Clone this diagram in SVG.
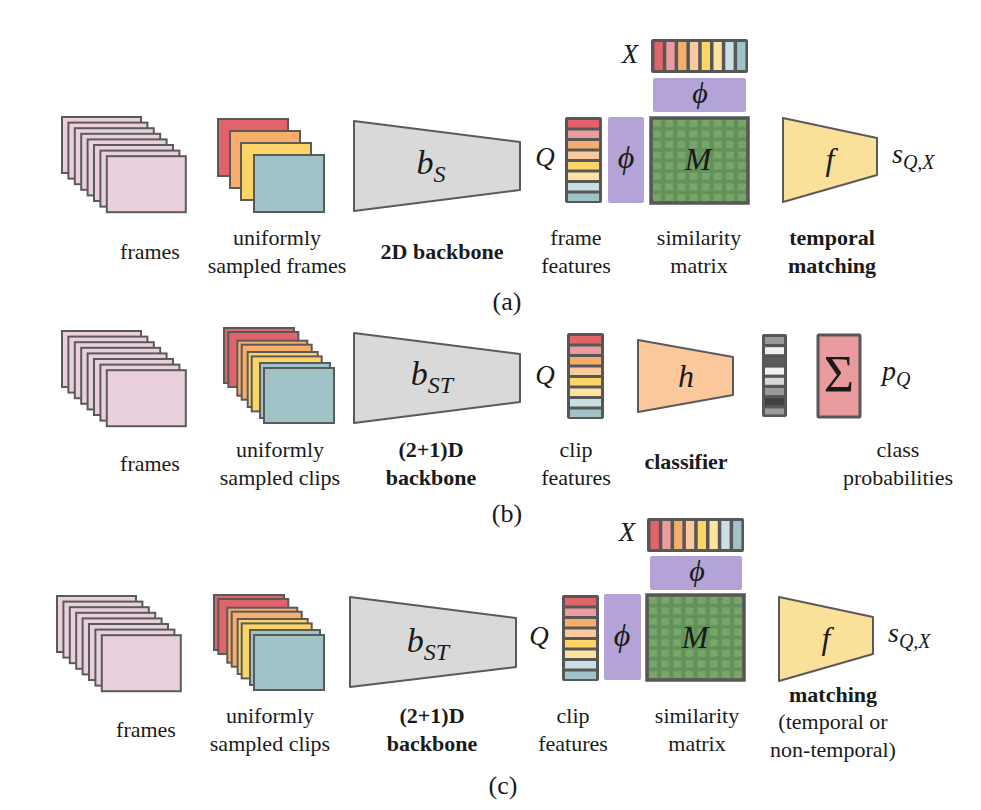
<svg xmlns="http://www.w3.org/2000/svg" xmlns:xlink="http://www.w3.org/1999/xlink" width="981" height="810" viewBox="0 0 981 810">
<style>
text{font-family:'Liberation Serif','DejaVu Serif','Times New Roman',serif}
.lbl{font-size:22px;fill:#1a1a1a;text-anchor:middle}
.b{font-weight:bold}
.mi{font-style:italic;fill:#1a1a1a}
.cap{font-size:26px;fill:#1a1a1a;text-anchor:middle}
.fr{fill:#e9d0dc;stroke:#5a5a5a;stroke-width:2}
.sr{stroke:#5a5a5a;stroke-width:2}
.red{fill:#e0646a}.pnk{fill:#ec9b9e}.org{fill:#f7ad6b}.pch{fill:#fbc99d}.yel{fill:#fdd466}.lyl{fill:#fde39f}.lbl2{fill:#c9dfe2}.tea{fill:#9fc3c7}
.trap{stroke:#5a5a5a;stroke-width:2;stroke-linejoin:round}
.phi{fill:#b3a3d6}
.dark{fill:#575757}
</style>
<defs>
<g id="frames8">
<rect class="fr" x="0" y="0" width="79" height="56"/>
<rect class="fr" x="6.4" y="5.6" width="79" height="56"/>
<rect class="fr" x="12.8" y="11.2" width="79" height="56"/>
<rect class="fr" x="19.2" y="16.8" width="79" height="56"/>
<rect class="fr" x="25.6" y="22.4" width="79" height="56"/>
<rect class="fr" x="32" y="28" width="79" height="56"/>
<rect class="fr" x="38.4" y="33.6" width="79" height="56"/>
<rect class="fr" x="44.8" y="39.2" width="79" height="56"/>
</g>
<g id="clips8">
<rect class="red sr" x="0" y="0" width="70" height="55"/>
<rect class="red sr" x="4.3" y="4" width="70" height="55"/>
<rect class="org sr" x="13.3" y="12.7" width="70" height="55"/>
<rect class="org sr" x="17.7" y="16.7" width="70" height="55"/>
<rect class="yel sr" x="23.7" y="24" width="70" height="55"/>
<rect class="yel sr" x="27.7" y="28.4" width="70" height="55"/>
<rect class="tea sr" x="36" y="35" width="70" height="55"/>
<rect class="tea sr" x="40" y="40" width="70" height="55"/>
</g>
<g id="qcol">
<rect class="dark" x="0" y="0" width="37" height="86" rx="2"/>
<rect class="red" x="3" y="3" width="31" height="7.5"/>
<rect class="pnk" x="3" y="13.5" width="31" height="7.5"/>
<rect class="org" x="3" y="24" width="31" height="7.5"/>
<rect class="pch" x="3" y="34.5" width="31" height="7.5"/>
<rect class="yel" x="3" y="45" width="31" height="7.5"/>
<rect class="lyl" x="3" y="55.5" width="31" height="7.5"/>
<rect class="lbl2" x="3" y="66" width="31" height="7.5"/>
<rect class="tea" x="3" y="76.5" width="31" height="7.5"/>
</g>
<g id="xrow">
<rect class="dark" x="0" y="0" width="97" height="34" rx="2"/>
<rect class="red" x="3.5" y="3" width="8.3" height="28"/>
<rect class="pnk" x="15.3" y="3" width="8.3" height="28"/>
<rect class="org" x="27.1" y="3" width="8.3" height="28"/>
<rect class="pch" x="38.9" y="3" width="8.3" height="28"/>
<rect class="yel" x="50.7" y="3" width="8.3" height="28"/>
<rect class="lyl" x="62.5" y="3" width="8.3" height="28"/>
<rect class="lbl2" x="74.3" y="3" width="8.3" height="28"/>
<rect class="tea" x="86.1" y="3" width="8.3" height="28"/>
</g>
<pattern id="mg" x="0" y="0" width="12.125" height="10.6" patternUnits="userSpaceOnUse">
<rect x="2.2" y="1.8" width="7.8" height="7" fill="#78a56a"/>
</pattern>
<g id="mmat">
<rect x="0" y="0" width="97" height="85" fill="#62915a"/>
<rect x="0" y="0" width="97" height="85" fill="url(#mg)"/>
<rect x="0" y="0" width="97" height="85" fill="none" stroke="#575757" stroke-width="3.5"/>
</g>
</defs>

<g id="connectors"/>

<!-- Panel (a) -->
<g id="a-frames" transform="translate(62,117)"><use xlink:href="#frames8"/></g>
<g id="a-sampled">
<rect class="red sr" x="218" y="119" width="70" height="57"/>
<rect class="org sr" x="230" y="131" width="70" height="57"/>
<rect class="yel sr" x="241" y="143" width="70" height="57"/>
<rect class="tea sr" x="254" y="155" width="70" height="57"/>
</g>
<g id="a-backbone">
<polygon class="trap" fill="#d9d9d9" points="354,121 520,142 520,190 354,211"/>
<text class="mi" x="431" y="174" text-anchor="middle" font-size="34">b<tspan font-size="24" dy="8">S</tspan></text>
</g>
<g id="a-qfeat">
<use xlink:href="#qcol" transform="translate(565,117)"/>
<text class="mi" x="545" y="166" text-anchor="middle" font-size="27">Q</text>
</g>
<g id="a-phiq">
<rect class="phi" x="608" y="117" width="36" height="86" rx="2"/>
<text class="mi" x="626" y="168" text-anchor="middle" font-size="32">ϕ</text>
</g>
<g id="a-xfeat">
<use xlink:href="#xrow" transform="translate(651,39)"/>
<text class="mi" x="630" y="63" text-anchor="middle" font-size="27">X</text>
</g>
<g id="a-phix">
<rect class="phi" x="653" y="78" width="93" height="34" rx="2"/>
<text class="mi" x="700" y="103" text-anchor="middle" font-size="30">ϕ</text>
</g>
<g id="a-M">
<use xlink:href="#mmat" transform="translate(651,118)"/>
<text class="mi" x="698" y="170" text-anchor="middle" font-size="32">M</text>
</g>
<g id="a-f">
<polygon class="trap" fill="#fbe09a" points="783,118 877,138 877,175 783,202"/>
<text class="mi" x="830" y="170" text-anchor="middle" font-size="32">f</text>
</g>
<g id="a-s">
<text class="mi" x="892" y="163" font-size="28">s<tspan font-size="20" dy="6">Q,X</tspan></text>
</g>
<g id="a-labels">
<text class="lbl" x="150" y="259">frames</text>
<text class="lbl" x="277" y="245">uniformly</text>
<text class="lbl" x="277" y="273">sampled frames</text>
<text class="lbl b" x="442" y="259">2D backbone</text>
<text class="lbl" x="576" y="245">frame</text>
<text class="lbl" x="576" y="273">features</text>
<text class="lbl" x="699" y="245">similarity</text>
<text class="lbl" x="699" y="273">matrix</text>
<text class="lbl b" x="832" y="245">temporal</text>
<text class="lbl b" x="832" y="273">matching</text>
<text class="cap" x="507" y="310">(a)</text>
</g>

<!-- Panel (b) -->
<g id="b-frames" transform="translate(62,331)"><use xlink:href="#frames8"/></g>
<g id="b-clips" transform="translate(224,328)"><use xlink:href="#clips8"/></g>
<g id="b-backbone">
<polygon class="trap" fill="#d9d9d9" points="354,333 520,354 520,402 354,423"/>
<text class="mi" x="432" y="385" text-anchor="middle" font-size="34">b<tspan font-size="24" dy="8">ST</tspan></text>
</g>
<g id="b-qfeat">
<use xlink:href="#qcol" transform="translate(567,333)"/>
<text class="mi" x="545" y="384" text-anchor="middle" font-size="27">Q</text>
</g>
<g id="b-h">
<polygon class="trap" fill="#fbc89c" points="638,340 733,357 733,395 638,412"/>
<text class="mi" x="686" y="387" text-anchor="middle" font-size="32">h</text>
</g>
<g id="b-scores">
<rect class="dark" x="762" y="334" width="25" height="83" rx="2"/>
<rect fill="#9a9a9a" x="765" y="337" width="19" height="7"/>
<rect fill="#f2f2f2" x="765" y="347.2" width="19" height="7"/>
<rect fill="#5c5c5c" x="765" y="357.4" width="19" height="7"/>
<rect fill="#f2f2f2" x="765" y="367.6" width="19" height="7"/>
<rect fill="#d6d6d6" x="765" y="377.8" width="19" height="7"/>
<rect fill="#9a9a9a" x="765" y="388" width="19" height="7"/>
<rect fill="#404040" x="765" y="398.2" width="19" height="7"/>
<rect fill="#9a9a9a" x="765" y="408.4" width="19" height="6"/>
</g>
<g id="b-sum">
<rect x="818" y="335" width="42" height="82" fill="#e99a9c" stroke="#575757" stroke-width="3" rx="1"/>
<text x="839" y="392" text-anchor="middle" font-size="52" fill="#1a1a1a">Σ</text>
</g>
<g id="b-p">
<text class="mi" x="882" y="380" font-size="28">p<tspan font-size="20" dy="6">Q</tspan></text>
</g>
<g id="b-labels">
<text class="lbl" x="150" y="471">frames</text>
<text class="lbl" x="280" y="457">uniformly</text>
<text class="lbl" x="280" y="485">sampled clips</text>
<text class="lbl b" x="431" y="457">(2+1)D</text>
<text class="lbl b" x="431" y="485">backbone</text>
<text class="lbl" x="576" y="457">clip</text>
<text class="lbl" x="576" y="485">features</text>
<text class="lbl b" x="686" y="469">classifier</text>
<text class="lbl" x="898" y="457">class</text>
<text class="lbl" x="898" y="485">probabilities</text>
<text class="cap" x="507" y="522">(b)</text>
</g>

<!-- Panel (c) -->
<g id="c-frames" transform="translate(57,596)"><use xlink:href="#frames8"/></g>
<g id="c-clips" transform="translate(214,595)"><use xlink:href="#clips8"/></g>
<g id="c-backbone">
<polygon class="trap" fill="#d9d9d9" points="350,597 516,618 516,667 350,687"/>
<text class="mi" x="428" y="652" text-anchor="middle" font-size="34">b<tspan font-size="24" dy="8">ST</tspan></text>
</g>
<g id="c-qfeat">
<use xlink:href="#qcol" transform="translate(562,595)"/>
<text class="mi" x="539" y="645" text-anchor="middle" font-size="27">Q</text>
</g>
<g id="c-phiq">
<rect class="phi" x="604" y="594" width="37" height="86" rx="2"/>
<text class="mi" x="622" y="646" text-anchor="middle" font-size="32">ϕ</text>
</g>
<g id="c-xfeat">
<use xlink:href="#xrow" transform="translate(647,518)"/>
<text class="mi" x="627" y="541" text-anchor="middle" font-size="27">X</text>
</g>
<g id="c-phix">
<rect class="phi" x="650" y="556" width="92" height="34" rx="2"/>
<text class="mi" x="697" y="581" text-anchor="middle" font-size="30">ϕ</text>
</g>
<g id="c-M">
<use xlink:href="#mmat" transform="translate(647,595)"/>
<text class="mi" x="695" y="648" text-anchor="middle" font-size="32">M</text>
</g>
<g id="c-f">
<polygon class="trap" fill="#fbe09a" points="779,597 873,617 873,654 779,681"/>
<text class="mi" x="826" y="649" text-anchor="middle" font-size="32">f</text>
</g>
<g id="c-s">
<text class="mi" x="888" y="642" font-size="28">s<tspan font-size="20" dy="6">Q,X</tspan></text>
</g>
<g id="c-labels">
<text class="lbl" x="146" y="737">frames</text>
<text class="lbl" x="270" y="723">uniformly</text>
<text class="lbl" x="270" y="751">sampled clips</text>
<text class="lbl b" x="432" y="723">(2+1)D</text>
<text class="lbl b" x="432" y="751">backbone</text>
<text class="lbl" x="573" y="723">clip</text>
<text class="lbl" x="573" y="751">features</text>
<text class="lbl" x="697" y="723">similarity</text>
<text class="lbl" x="697" y="751">matrix</text>
<text class="lbl b" x="833" y="702">matching</text>
<text class="lbl" x="833" y="729">(temporal or</text>
<text class="lbl" x="833" y="757">non-temporal)</text>
<text class="cap" x="503" y="794">(c)</text>
</g>
</svg>
